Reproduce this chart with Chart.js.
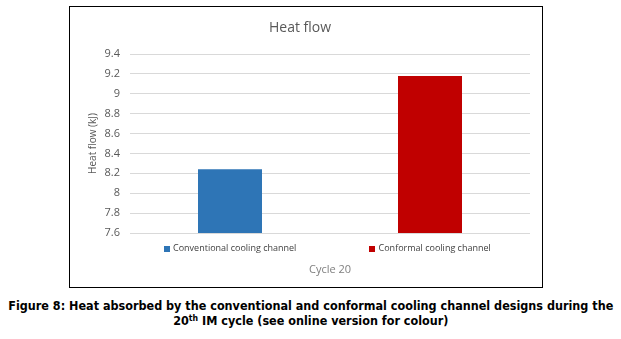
<!DOCTYPE html>
<html>
<head>
<meta charset="utf-8">
<script src="https://cdn.jsdelivr.net/npm/chart.js@4.4.0/dist/chart.umd.min.js"></script>
<style>
  body { margin: 0; background: #fff; width: 621px; height: 339px; position: relative; overflow: hidden; }
  #box { position: absolute; left: 69px; top: 6px; width: 472px; height: 280px; border: 1px solid #000; }
  #caption { position: absolute; left: 0; top: 299px; width: 621px; text-align: center;
    font: bold 11.5px 'DejaVu Sans Condensed', 'DejaVu Sans', sans-serif; line-height: 15px; color: #000; }
  #caption span { display: inline-block; white-space: nowrap; transform-origin: center; }
  #caption sup { font-size: 8px; vertical-align: 4px; line-height: 0; }
</style>
</head>
<body>
<div id="box"><canvas id="chart"></canvas></div>
<div id="caption"><span id="cap1">Figure 8: Heat absorbed by the conventional and conformal cooling channel designs during the</span><br><span id="cap2">20<sup>th</sup> IM cycle (see online version for colour)</span></div>
<script>
// --- data ---
const categories = ['Conventional cooling channel', 'Conformal cooling channel'];
const heatFlow = [8.24, 9.18];
const barColors = ['#2e75b6', '#c00000'];
const yTicks = [7.6, 7.8, 8, 8.2, 8.4, 8.6, 8.8, 9, 9.2, 9.4];

const FONT = "'Open Sans', sans-serif";
const LEGEND_FONT = { family: FONT, size: 9 };
const PAD = '    ';

// stretch the caption to the width of the original line
const cap1 = document.getElementById('cap1');
const sx = 605 / cap1.getBoundingClientRect().width;
cap1.style.transform = `scaleX(${sx})`;
document.getElementById('cap2').style.transform = `scaleX(${sx})`;

// draws the little coloured squares in front of the category labels (Excel style legend)
const tickMarkers = {
  id: 'tickMarkers',
  afterDraw(chart) {
    const xs = chart.scales.x;
    const ctx = chart.ctx;
    ctx.save();
    ctx.font = `${LEGEND_FONT.size}px ${FONT}`;
    xs.ticks.forEach((t, i) => {
      const w = ctx.measureText(PAD + categories[i]).width;
      const cx = xs.getPixelForTick(i);
      const y = xs.top + 16;
      ctx.fillStyle = barColors[i];
      ctx.fillRect(Math.round(cx - w / 2), Math.round(y - 3), 6, 6);
    });
    ctx.restore();
  }
};

new Chart(document.getElementById('chart'), {
  type: 'bar',
  data: {
    labels: categories.map(c => PAD + c),
    datasets: [{
      label: 'Heat flow',
      data: heatFlow,
      backgroundColor: barColors,
      barPercentage: 1,
      categoryPercentage: 0.32
    }]
  },
  options: {
    responsive: true,
    maintainAspectRatio: false,
    animation: false,
    layout: { padding: { left: 0, right: 12, top: 0, bottom: 0 } },
    plugins: {
      legend: { display: false },
      tooltip: { enabled: false },
      title: {
        display: true, text: 'Heat flow', color: '#595959',
        font: { family: FONT, size: 14, weight: 'normal' },
        padding: { top: 12.6, bottom: 17.6 }
      }
    },
    scales: {
      x: {
        grid: { display: false, drawTicks: false },
        border: { display: false },
        ticks: { color: '#404040', font: LEGEND_FONT, padding: 10, maxRotation: 0, autoSkip: false },
        title: {
          display: true, text: 'Cycle 20', color: '#7f7f7f',
          font: { family: FONT, size: 11 }, padding: { top: 0, bottom: 10.8 }
        },
        afterFit(scale) { scale.height = 54; }
      },
      y: {
        min: 7.6, max: 9.4,
        afterBuildTicks(scale) { scale.ticks = yTicks.map(v => ({ value: v })); },
        grid: { color: '#d9d9d9', lineWidth: 1, drawTicks: false },
        border: { display: false },
        ticks: {
          color: '#595959', font: { family: FONT, size: 11 }, padding: 10,
          callback: v => String(parseFloat(Number(v).toFixed(1)))
        },
        title: {
          display: true, text: 'Heat flow (kJ)', color: '#595959',
          font: { family: FONT, size: 10 }, padding: { top: 17, bottom: 0 }
        },
        afterFit(scale) { scale.width = 60; }
      }
    }
  },
  plugins: [tickMarkers]
});
</script>
</body>
</html>
